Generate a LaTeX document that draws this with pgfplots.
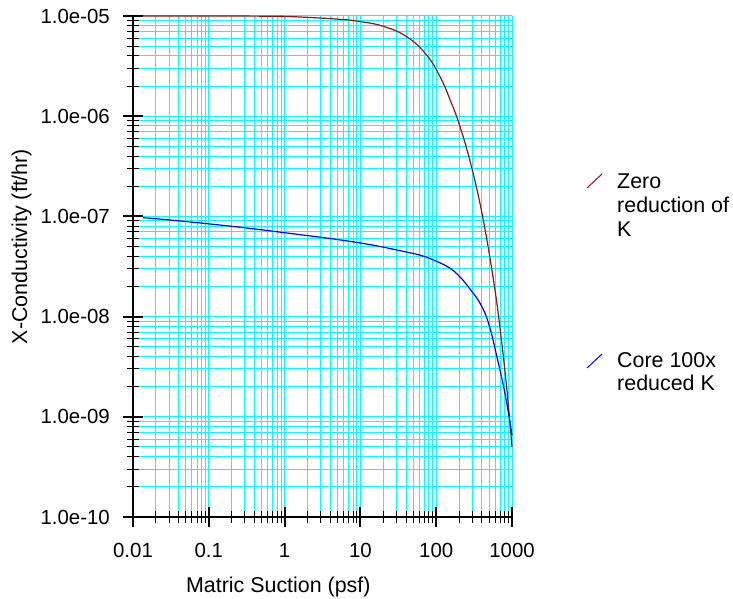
\documentclass[border=0pt]{standalone}
\usepackage{fontspec}
\setmainfont{Liberation Sans}
\usepackage{pgfplots}
\usepackage{pgfplotstable}
\pgfplotsset{compat=1.18}
\definecolor{kred}{RGB}{140,20,20}
\definecolor{kblue}{RGB}{0,0,255}
\definecolor{gridc}{RGB}{0,255,255}
\pgfplotstableread{
x y
0.0136 1.0e-5
0.05 1.0e-5
0.2 9.99e-6
0.5 9.96e-6
1 9.91e-6
2.4 9.62e-6
5 9.3e-6
9 8.9e-6
20 7.9e-6
41 6.2e-6
75 4.07e-6
113 2.46e-6
153 1.45e-6
207 7.8e-7
296 3.01e-7
414 9.55e-8
570 2.31e-8
700 7.33e-9
857 1.85e-9
1000 5.0e-10
}\zerored
\pgfplotstableread{
x y
0.0136 9.7e-8
0.031 9.2e-8
0.19 8.0e-8
0.96 6.9e-8
9 5.5e-8
41 4.4e-8
68 4.0e-8
102 3.55e-8
153 3.03e-8
210 2.45e-8
281 1.87e-8
381 1.35e-8
491 8.55e-9
632 3.98e-9
814 1.66e-9
1000 6.55e-10
}\corered
\newcommand{\tkfont}{\fontsize{20.5}{24}\selectfont}
\newcommand{\lbfont}{\fontsize{21.5}{24}\selectfont}
\begin{document}
\begin{tikzpicture}[x=1bp,y=1bp]
\path[use as bounding box] (0,0) rectangle (733,599);
\begin{axis}[
 at={(133bp,82bp)}, anchor=south west,
 scale only axis, width=379bp, height=501bp,
 xmode=log, ymode=log,
 xmin=0.01, xmax=1000, ymin=1e-10, ymax=1e-5,
 axis lines=left,
 every non boxed x axis/.append style={x axis line style=-},
 every non boxed y axis/.append style={y axis line style=-},
 x axis line style={-}, y axis line style={-},
 axis line style={line width=1.3bp, black},
 clip=false,
 xtick={0.01,0.1,1,10,100,1000},
 xticklabels={0.01,0.1,1,10,100,1000},
 ytick={1e-10,1e-9,1e-8,1e-7,1e-6,1e-5},
 yticklabels={1.0e-10,1.0e-09,1.0e-08,1.0e-07,1.0e-06,1.0e-05},
 minor xtick={0.02,0.03,0.04,0.05,0.06,0.07,0.08,0.09,0.2,0.3,0.4,0.5,0.6,0.7,0.8,0.9,2,3,4,5,6,7,8,9,20,30,40,50,60,70,80,90,200,300,400,500,600,700,800,900},
 minor ytick={2e-10,3e-10,4e-10,5e-10,6e-10,7e-10,8e-10,9e-10,2e-9,3e-9,4e-9,5e-9,6e-9,7e-9,8e-9,9e-9,2e-8,3e-8,4e-8,5e-8,6e-8,7e-8,8e-8,9e-8,2e-7,3e-7,4e-7,5e-7,6e-7,7e-7,8e-7,9e-7,2e-6,3e-6,4e-6,5e-6,6e-6,7e-6,8e-6,9e-6},
 tick align=center,
 major tick length=20bp, minor tick length=12bp,
 every major tick/.append style={line width=2bp, black},
 every minor tick/.append style={line width=1bp, black},
 grid=both,
 major grid style={gridc, line width=1bp},
 minor grid style={gridc, line width=1bp},
 tick label style={font=\tkfont},
 xticklabel style={anchor=north, inner sep=0pt, yshift=-16bp},
 yticklabel style={anchor=east, inner sep=0pt, xshift=-13bp},
 xlabel={Matric Suction (psf)},
 ylabel={X-Conductivity (ft/hr)},
 label style={font=\lbfont},
 xlabel style={at={(axis description cs:0.3834,0)}, anchor=base, yshift=-75bp},
 ylabel style={at={(axis description cs:-0.2937,0.54)}, anchor=center},
]
\addplot[kred, line width=1.2bp, no marks, smooth, tension=0.7] table[x=x,y=y]{\zerored};
\addplot[kblue, line width=1.2bp, no marks, smooth, tension=0.7] table[x=x,y=y]{\corered};
\end{axis}
\draw[kred, line width=1bp] (587,411) -- (602,425);
\node[anchor=base west, inner sep=0pt, font=\lbfont] at (617,410) {Zero};
\node[anchor=base west, inner sep=0pt, font=\lbfont] at (617,386) {reduction of};
\node[anchor=base west, inner sep=0pt, font=\lbfont] at (617,362) {K};
\draw[kblue, line width=1bp] (587,231) -- (602,245);
\node[anchor=base west, inner sep=0pt, font=\lbfont] at (617,231) {Core 100x};
\node[anchor=base west, inner sep=0pt, font=\lbfont] at (617,208) {reduced K};
\end{tikzpicture}
\end{document}
